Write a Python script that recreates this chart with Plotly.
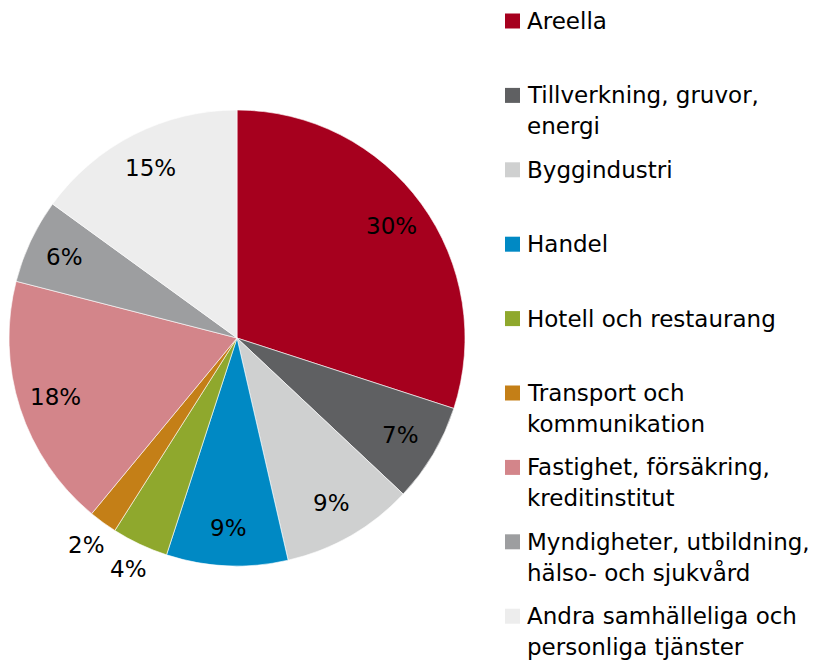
import math
import plotly.graph_objects as go

W, H = 815, 661

categories = ["Areella", "Tillverkning, gruvor, energi", "Byggindustri", "Handel",
              "Hotell och restaurang", "Transport och kommunikation",
              "Fastighet, försäkring, kreditinstitut",
              "Myndigheter, utbildning, hälso- och sjukvård",
              "Andra samhälleliga och personliga tjänster"]
values = [30, 7, 9.4, 8.6, 4, 2, 18, 6, 15]
legend_lines = [["Areella"], ["Tillverkning, gruvor,", "energi"], ["Byggindustri"], ["Handel"],
                ["Hotell och restaurang"], ["Transport och", "kommunikation"],
                ["Fastighet, försäkring,", "kreditinstitut"],
                ["Myndigheter, utbildning,", "hälso- och sjukvård"],
                ["Andra samhälleliga och", "personliga tjänster"]]
colors = ["#A6001E", "#5F6062", "#CFD0D0", "#0089C4", "#8FA82D", "#C47F17",
          "#D3858A", "#9D9EA0", "#EDEDED"]
label_outside = [False, False, False, False, True, True, False, False, False]

FONT = "DejaVu Sans"
FS = 23

# pie placement (pixels)
PX0, PX1, PY0, PY1 = 9, 465, 110, 566
fig = go.Figure(go.Pie(
    labels=categories, values=values, sort=False, direction="clockwise", rotation=0,
    marker=dict(colors=colors, line=dict(color="white", width=0.6)),
    textinfo="none",
    domain=dict(x=[PX0 / W, PX1 / W], y=[1 - PY1 / H, 1 - PY0 / H]),
    showlegend=False, hoverinfo="label+percent",
))

annotations, shapes = [], []

# percentage labels, placed from the data's cumulative angles
cx, cy, r = (PX0 + PX1) / 2, (PY0 + PY1) / 2, (PX1 - PX0) / 2
total = sum(values)
cum = 0
for v, out in zip(values, label_outside):
    mid = (cum + v / 2) / total * 2 * math.pi
    cum += v
    f = 1.12 if out else 0.835
    x = cx + f * r * math.sin(mid)
    y = cy - f * r * math.cos(mid)
    annotations.append(dict(text=f"{round(v / total * 100)}%", xref="paper", yref="paper",
                            x=x / W, y=1 - y / H, xanchor="center", yanchor="middle",
                            showarrow=False, font=dict(family=FONT, size=FS, color="black")))

# legend
y0_px, step_px, line_px = 21, 74.4, 31
for i, (lines, c) in enumerate(zip(legend_lines, colors)):
    yc = y0_px + i * step_px
    shapes.append(dict(type="rect", xref="paper", yref="paper",
                       x0=505 / W, x1=520 / W, y0=1 - (yc + 7.5) / H, y1=1 - (yc - 7.5) / H,
                       fillcolor=c, line=dict(width=0)))
    for j, t in enumerate(lines):
        annotations.append(dict(text=t, xref="paper", yref="paper", x=525 / W,
                                y=1 - (yc + j * line_px) / H, xanchor="left", yanchor="middle",
                                showarrow=False, font=dict(family=FONT, size=FS, color="black")))

fig.update_layout(width=W, height=H, margin=dict(l=0, r=0, t=0, b=0),
                  paper_bgcolor="white", plot_bgcolor="white",
                  shapes=shapes, annotations=annotations)
fig.write_html("out.html")
